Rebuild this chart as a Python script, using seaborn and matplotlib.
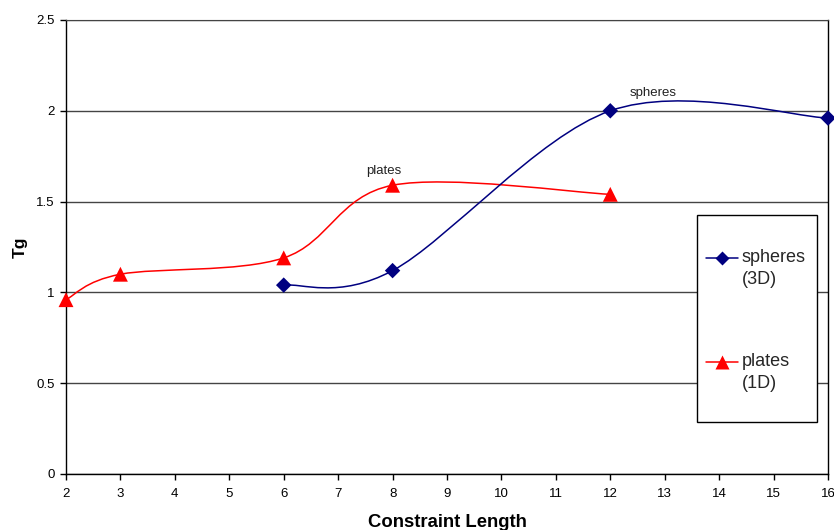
import numpy as np
import pandas as pd
import seaborn as sns
import matplotlib.pyplot as plt
from matplotlib.path import Path
from matplotlib.patches import PathPatch, Rectangle
from matplotlib.lines import Line2D

# values
spheres_x = [6, 8, 12, 16]
spheres_y = [1.04, 1.12, 2.00, 1.96]
plates_x = [2, 3, 6, 8, 12]
plates_y = [0.96, 1.10, 1.19, 1.59, 1.54]

sns.set_style("white")
plt.rcParams['font.family'] = ['Liberation Sans', 'DejaVu Sans']

W, H = 834, 530
fig = plt.figure(figsize=(W / 100, H / 100), dpi=100)
ax = fig.add_axes([66 / W, 56 / H, 762 / W, 454 / H])


def smooth_path(xs, ys):
    # Excel-like smoothed line: Catmull-Rom as cubic Bezier segments
    p = np.column_stack([xs, ys]).astype(float)
    ext = np.vstack([p[0], p, p[-1]])
    verts = [p[0]]
    codes = [Path.MOVETO]
    for i in range(len(p) - 1):
        p0, p1, p2, p3 = ext[i], ext[i + 1], ext[i + 2], ext[i + 3]
        verts += [p1 + (p2 - p0) / 6, p2 - (p3 - p1) / 6, p2]
        codes += [Path.CURVE4] * 3
    return Path(verts, codes)


navy = '#000080'
red = '#ff0000'

ax.add_patch(PathPatch(smooth_path(plates_x, plates_y), fc='none', ec=red, lw=1.1, zorder=3))
ax.add_patch(PathPatch(smooth_path(spheres_x, spheres_y), fc='none', ec=navy, lw=1.1, zorder=3))

df = pd.concat([
    pd.DataFrame({'x': spheres_x, 'y': spheres_y, 's': 'spheres'}),
    pd.DataFrame({'x': plates_x, 'y': plates_y, 's': 'plates'}),
])
sns.scatterplot(data=df, x='x', y='y', hue='s', style='s',
                palette={'spheres': navy, 'plates': red},
                markers={'spheres': 'D', 'plates': '^'},
                size='s', sizes={'spheres': 62, 'plates': 115},
                edgecolor='none', legend=False, ax=ax, zorder=4, clip_on=False)

ax.set_xlim(2, 16)
ax.set_ylim(0, 2.5)
ax.set_xticks(range(2, 17))
ax.set_yticks([0, 0.5, 1, 1.5, 2, 2.5])
ax.set_yticklabels(['0', '0.5', '1', '1.5', '2', '2.5'])
ax.yaxis.grid(True, color='#444444', lw=1.0)
ax.set_axisbelow(True)
for side in ['left', 'bottom', 'right']:
    ax.spines[side].set_color('black')
    ax.spines[side].set_linewidth(1.0)
ax.spines['top'].set_color('#444444')
ax.tick_params(axis='both', direction='out', length=4, width=1, color='black',
               pad=4, bottom=True, left=True, labelcolor='black')
ax.tick_params(axis='y', labelsize=9.5)
ax.tick_params(axis='x', labelsize=9.5, pad=6)

ax.set_xlabel('Constraint Length', fontsize=13.3, fontweight='bold', labelpad=10, color='black')
ax.set_ylabel('Tg', fontsize=12.5, fontweight='bold', labelpad=6, color='black')

ax.text(7.84, 1.635, 'plates', fontsize=9.5, ha='center', va='bottom', color='#222222')
ax.text(12.78, 2.065, 'spheres', fontsize=9.5, ha='center', va='bottom', color='#222222')


# legend box drawn in pixel positions of the reference
def fx(px):
    return px / W


def fy(py):
    return 1 - py / H


fig.patches.append(Rectangle((fx(697), fy(422)), fx(817) - fx(697), fy(215) - fy(422),
                             transform=fig.transFigure, fc='white', ec='black', lw=1.0,
                             zorder=5))
for col, mk, ms, yy, lab1, lab2 in [(navy, 'D', 7.5, 257.5, 'spheres', '(3D)'),
                                     (red, '^', 10.5, 362, 'plates', '(1D)')]:
    fig.lines.append(Line2D([fx(706), fx(738)], [fy(yy), fy(yy)], transform=fig.transFigure,
                            color=col, lw=1.1, zorder=6))
    fig.lines.append(Line2D([fx(722)], [fy(yy)], transform=fig.transFigure, color=col,
                            marker=mk, markersize=ms, markeredgecolor='none', zorder=7))
    fig.text(fx(742), fy(yy), lab1, fontsize=13, ha='left', va='center', zorder=7)
    fig.text(fx(742), fy(yy + 22), lab2, fontsize=13, ha='left', va='center', zorder=7)

fig.savefig('out.png', dpi=100)
